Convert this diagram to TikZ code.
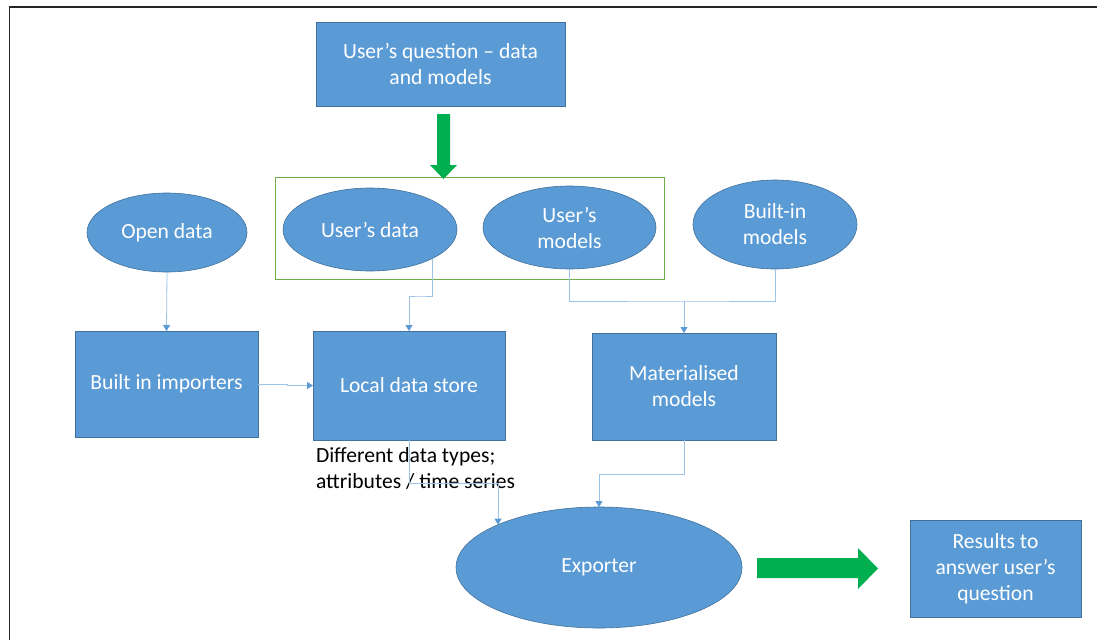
\documentclass[tikz,border=0pt]{standalone}
\usepackage{fontspec}
\setmainfont{Carlito}
\usetikzlibrary{shapes.geometric,arrows.meta,calc}
\definecolor{boxblue}{HTML}{5B9BD5}
\definecolor{edgeblue}{HTML}{41719C}
\definecolor{lineblue}{HTML}{9DC3E6}
\definecolor{arrowgreen}{HTML}{00B050}
\definecolor{framegreen}{HTML}{70AD47}
\newcommand{\diagfont}{\fontsize{21.6}{26}\selectfont}
\begin{document}
\begin{tikzpicture}[x=1pt,y=-1pt,
  every node/.style={inner sep=0pt, outer sep=0pt},
  boxnode/.style={rectangle, fill=boxblue, draw=edgeblue, line width=0.6pt, text=white, align=center, font=\diagfont},
  ovalnode/.style={ellipse, fill=boxblue, draw=edgeblue, line width=0.6pt, text=white, align=center, font=\diagfont},
  link/.style={draw=lineblue, line width=0.8pt},
  conn/.style={link, -{Triangle[length=6pt,width=7pt,color=boxblue]}},
  fatarrow/.style={fill=arrowgreen, draw=none}]
\useasboundingbox (0,0) rectangle (1097,640);
\fill[white] (0,0) rectangle (1097,640);
\draw[black!85, line width=1.3pt] (9.5,640) -- (9.5,7) -- (1097,7);

\node[boxnode, minimum width=249pt, minimum height=84pt] (question) at (440.5,64) {User’s question – data\\and models};
\node[draw=framegreen, line width=0.9pt, minimum width=389pt, minimum height=102pt] (userframe) at (469.5,228) {};
\node[ovalnode, minimum width=160pt, minimum height=79pt] (opendata) at (167,232.5) {Open data};
\node[ovalnode, minimum width=174pt, minimum height=83pt] (udata) at (370,229.5) {User’s data};
\node[ovalnode, minimum width=173pt, minimum height=83pt] (umodels) at (569.5,227.5) {User’s\\models};
\node[ovalnode, minimum width=164pt, minimum height=89pt] (bimodels) at (775,224.5) {Built-in\\models};
\node[boxnode, minimum width=183pt, minimum height=106pt] (importers) at (166.5,384) {Built in importers};
\node[boxnode, minimum width=192pt, minimum height=109pt] (store) at (409,385.5) {Local data store};
\node[boxnode, minimum width=184pt, minimum height=107pt] (matmodels) at (684,386.5) {Materialised\\models};
\node[ovalnode, minimum width=286pt, minimum height=121pt] (exporter) at (599,567.5) {Exporter};
\node[boxnode, minimum width=171pt, minimum height=97pt] (results) at (995.5,568.5) {Results to\\answer user’s\\question};
\node[anchor=north west, align=left, font=\diagfont, text=black] (storenote) at (316,447) {Different data types;\\attributes / time series};

% fat green arrows
\fill[fatarrow] (437,114) -- (450,114) -- (450,165) -- (457,165) -- (443.5,179) -- (430,165) -- (437,165) -- cycle;
\fill[fatarrow] (757,558) -- (858,558) -- (858,548) -- (878,568.5) -- (858,589) -- (858,578) -- (757,578) -- cycle;

% connectors
\coordinate (ujoin) at (420,296);
\coordinate (mjoin) at ($(matmodels.north)+(0,-32)$);
\draw[conn] (opendata.south) -- (importers.north);
\draw[conn] (importers.east) -- ++(29,0) |- (store.west);
\draw[conn] (udata.-25) |- (ujoin) -| (store.north);
\draw[link] (umodels.south) |- (mjoin) -| (bimodels.south);
\draw[conn] (mjoin) -- (matmodels.north);
\draw[conn] (matmodels.south) -- ++(0,34) -| (exporter.north);
\draw[conn] (store.south) -- ++(0,43) -| (exporter.157);
\end{tikzpicture}
\end{document}
